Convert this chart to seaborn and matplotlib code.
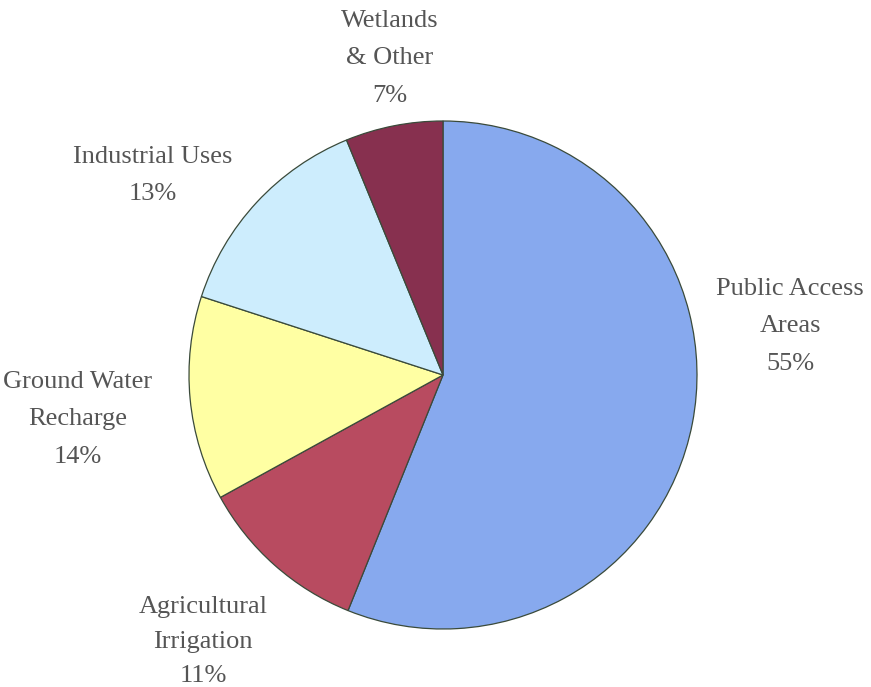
import matplotlib
matplotlib.use("Agg")
import matplotlib.pyplot as plt
import seaborn as sns

categories = ["Public Access\nAreas", "Agricultural\nIrrigation", "Ground Water\nRecharge",
              "Industrial Uses", "Wetlands\n& Other"]
# wedge sizes as drawn in the picture (measured from slice angles)
wedge_sizes = [56.1, 10.9, 13.0, 13.8, 6.2]
# percentages as printed on the labels
pct_labels = ["55%", "11%", "14%", "13%", "7%"]
colors = ["#87A9EE", "#B84B60", "#FFFFA3", "#CDEDFD", "#87304F"]

# label anchor positions (pixel coords from top-left) and line spacing, layout only
label_pos = [(790, 278), (203, 596), (78, 371), (153, 146), (390, 10)]
label_ls = [1.9, 1.75, 1.9, 1.9, 1.9]

sns.set_theme(style="white")
plt.rcParams['font.family'] = ['Liberation Serif', 'DejaVu Serif']

W, H = 871, 687
fig = plt.figure(figsize=(W / 100, H / 100), dpi=100)
ax = fig.add_axes([0, 0, 1, 1])

cx, cy, r = 443, H - 375, 254
ax.pie(wedge_sizes, colors=colors, startangle=90, counterclock=False,
       center=(cx, cy), radius=r, frame=True,
       wedgeprops=dict(edgecolor="#3a4a3a", linewidth=0.9))
ax.set_xlim(0, W)
ax.set_ylim(0, H)
ax.set_aspect("equal")
ax.axis("off")

for cat, p, (x, y), ls in zip(categories, pct_labels, label_pos, label_ls):
    ax.text(x, H - y, f"{cat}\n{p}", ha="center", va="top", fontsize=19,
            color="#555555", linespacing=ls)

fig.savefig("out.png", dpi=100, facecolor="white")
